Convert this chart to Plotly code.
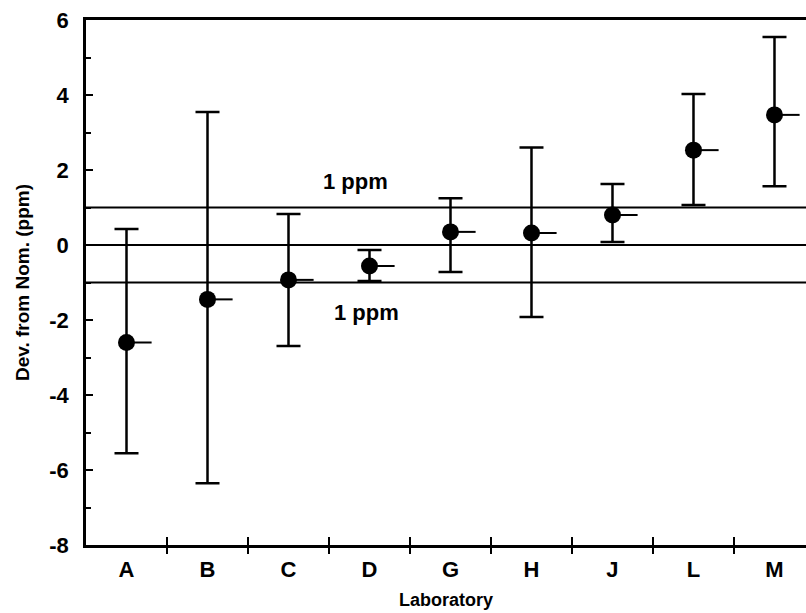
import plotly.graph_objects as go

# Interlaboratory comparison: deviation from nominal value, in ppm
labs = ["A", "B", "C", "D", "G", "H", "J", "L", "M"]
deviation = [-2.60, -1.45, -0.93, -0.56, 0.35, 0.32, 0.80, 2.53, 3.47]
upper = [0.43, 3.55, 0.83, -0.13, 1.25, 2.60, 1.63, 4.03, 5.55]
lower = [-5.55, -6.35, -2.69, -0.96, -0.72, -1.92, 0.08, 1.07, 1.57]
ref_levels = [1, 0, -1]
y_ticks = [-8, -6, -4, -2, 0, 2, 4, 6]
y_tick_text = ["-8", "-6", "-4", "-2", "0", "2", "4", "6"]

pos = list(range(len(labs)))
boundaries = [p + 0.5 for p in pos[:-1]]
err_plus = [u - d for u, d in zip(upper, deviation)]
err_minus = [d - l for d, l in zip(deviation, lower)]

FONT = "Arial, Liberation Sans, sans-serif"

fig = go.Figure()

fig.add_trace(go.Scatter(
    x=pos, y=deviation, mode="markers",
    marker=dict(color="black", size=17, symbol="circle"),
    error_y=dict(type="data", symmetric=False, array=err_plus, arrayminus=err_minus,
                 color="black", thickness=2.5, width=12),
    error_x=dict(type="data", symmetric=False, array=[0.31] * len(pos),
                 arrayminus=[0] * len(pos), color="black", thickness=2, width=0),
    showlegend=False, hoverinfo="skip",
))

# empty trace so the overlay axis carrying the boundary ticks is drawn
fig.add_trace(go.Scatter(x=[], y=[], xaxis="x2", yaxis="y", showlegend=False))

for lv in ref_levels:
    fig.add_shape(type="line", xref="paper", x0=0, x1=1, yref="y", y0=lv, y1=lv,
                  line=dict(color="black", width=2), layer="below")

fig.add_annotation(x=2.83, y=1.70, text="1 ppm", showarrow=False,
                   font=dict(family=FONT, size=22, color="black", weight="bold"))
fig.add_annotation(x=2.96, y=-1.81, text="1 ppm", showarrow=False,
                   font=dict(family=FONT, size=22, color="black", weight="bold"))

xr = [-0.5, 8.389]

fig.update_layout(
    width=806, height=613,
    margin=dict(l=86, r=0, t=20, b=68),
    paper_bgcolor="white", plot_bgcolor="white",
    font=dict(family=FONT, color="black"),
    xaxis=dict(
        range=xr, tickmode="array", tickvals=pos, ticktext=labs,
        ticks="", showgrid=False, zeroline=False,
        showline=True, linecolor="black", linewidth=2.5, mirror=True,
        tickfont=dict(family=FONT, size=22, weight="bold"),
        ticklabelstandoff=3,
        title=dict(text="Laboratory", standoff=13,
                   font=dict(family=FONT, size=18, weight="bold")),
        minor=dict(tickmode="array", tickvals=boundaries, ticks="inside",
                   ticklen=8, tickwidth=2, tickcolor="black", showgrid=False),
    ),
    xaxis2=dict(
        range=xr, overlaying="x", anchor="y", side="bottom",
        tickmode="array", tickvals=boundaries, ticktext=[""] * len(boundaries),
        ticks="outside", ticklen=8, tickwidth=2, tickcolor="black",
        showgrid=False, zeroline=False, showline=False, showticklabels=False,
    ),
    yaxis=dict(
        range=[-8, 6], tickmode="array", tickvals=y_ticks, ticktext=y_tick_text,
        ticks="inside", ticklen=7, tickwidth=2, tickcolor="black",
        showgrid=False, zeroline=False,
        showline=True, linecolor="black", linewidth=2.5,
        tickfont=dict(family=FONT, size=22, weight="bold"),
        ticklabelstandoff=10,
        title=dict(text="Dev. from Nom. (ppm)", standoff=15,
                   font=dict(family=FONT, size=19, weight="bold")),
        minor=dict(dtick=1, tick0=-7, ticks="inside", ticklen=5, tickwidth=2,
                   tickcolor="black", showgrid=False),
    ),
)

fig.write_html("out.html")
